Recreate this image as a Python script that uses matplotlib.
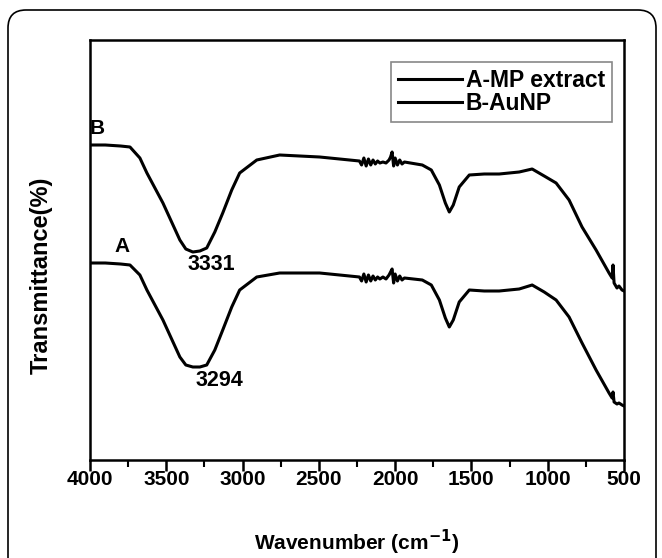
import matplotlib
matplotlib.use("Agg")
import matplotlib.pyplot as plt
from matplotlib.patches import FancyBboxPatch
from matplotlib.ticker import MultipleLocator

plt.rcParams['font.family'] = ['Liberation Sans', 'DejaVu Sans']

# wavenumber (cm-1), shared by both spectra
wavenumber = [4000, 3900, 3800, 3738, 3673, 3627, 3522, 3411, 3372, 3326, 3280, 3235,
              3182, 3130, 3071, 3019, 2907, 2757, 2495, 2364, 2234,
              2220, 2205, 2190, 2175, 2160, 2145, 2130, 2115, 2100, 2080, 2060, 2040,
              2030, 2020, 2010, 2000, 1985, 1970, 1955, 1939,
              1822, 1763, 1710, 1671, 1645, 1619, 1580, 1514, 1416, 1318, 1187, 1102,
              1023, 945, 860, 775, 683, 598, 578, 572, 565, 546, 533, 513, 500]

# transmittance, arbitrary offset units
trans_B = [315, 315, 314, 313, 302, 287, 257, 220, 211, 208, 209, 212,
           228, 247, 270, 287, 300, 305, 303, 301, 299,
           295, 302, 294, 301, 295, 300, 296, 299, 297, 298, 297, 300,
           303, 308, 294, 302, 295, 300, 296, 298,
           295, 290, 275, 257, 248, 255, 273, 285, 286, 286, 288, 291,
           284, 277, 260, 233, 210, 187, 182, 195, 177, 172, 174, 170, 169]

trans_A = [197, 197, 196, 195, 185, 170, 140, 103, 95, 93, 93, 95,
           110, 130, 153, 170, 183, 187, 187, 185, 183,
           179, 186, 178, 185, 179, 184, 180, 183, 181, 183, 181, 185,
           188, 191, 177, 186, 179, 184, 180, 182,
           180, 175, 160, 142, 133, 140, 158, 170, 169, 169, 171, 175,
           168, 160, 143, 117, 90, 67, 62, 68, 58, 56, 57, 55, 54]

series_labels = ['A-MP extract', 'B-AuNP']
peak_labels = ['3331', '3294']

fig = plt.figure(figsize=(6.62, 5.58), dpi=100)
ax = fig.add_axes([90 / 662, 98 / 558, 534 / 662, 420 / 558])

ax.plot(wavenumber, trans_A, color='black', lw=2.2, label=series_labels[0])
ax.plot(wavenumber, trans_B, color='black', lw=2.2, label=series_labels[1])

ax.set_xlim(4000, 500)
ax.set_ylim(0, 420)
ax.xaxis.set_major_locator(MultipleLocator(500))
ax.xaxis.set_minor_locator(MultipleLocator(250))
ax.set_yticks([])
ax.tick_params(axis='x', which='major', direction='out', length=8, width=1.8,
               labelsize=15, pad=-1)
ax.tick_params(axis='x', which='minor', direction='out', length=5, width=1.5)
for lab in ax.get_xticklabels():
    lab.set_fontweight('bold')
for s in ax.spines.values():
    s.set_linewidth(1.8)

ax.set_xlabel('Wavenumber (cm$^{\\mathbf{-1}}$)', fontsize=15, fontweight='bold')
ax.set_ylabel('Transmittance(%)', fontsize=17, fontweight='bold')
ax.xaxis.set_label_coords(0.5, -0.162)
ax.yaxis.set_label_coords(-0.07, 0.44)

ax.text(3954, 332, 'B', fontsize=15, fontweight='bold', ha='center', va='center')
ax.text(3791, 214, 'A', fontsize=15, fontweight='bold', ha='center', va='center')
ax.text(3202, 195, peak_labels[0], fontsize=15.5, fontweight='bold', ha='center', va='center')
ax.text(3150, 79, peak_labels[1], fontsize=15.5, fontweight='bold', ha='center', va='center')

leg = ax.legend(loc='upper right', bbox_to_anchor=(0.9775, 0.948), borderaxespad=0,
                fancybox=False, edgecolor='#888888', framealpha=1, handlelength=2.8,
                handletextpad=0.15, borderpad=0.3, labelspacing=0.0,
                prop={'weight': 'bold', 'size': 16.5})
leg.get_frame().set_linewidth(1.2)

frame = FancyBboxPatch((8, -30), 648, 578, boxstyle='round,pad=0,rounding_size=18',
                       transform=None, fill=False, edgecolor='black', lw=1.2)
fig.add_artist(frame)

fig.savefig('out.png', dpi=100)
